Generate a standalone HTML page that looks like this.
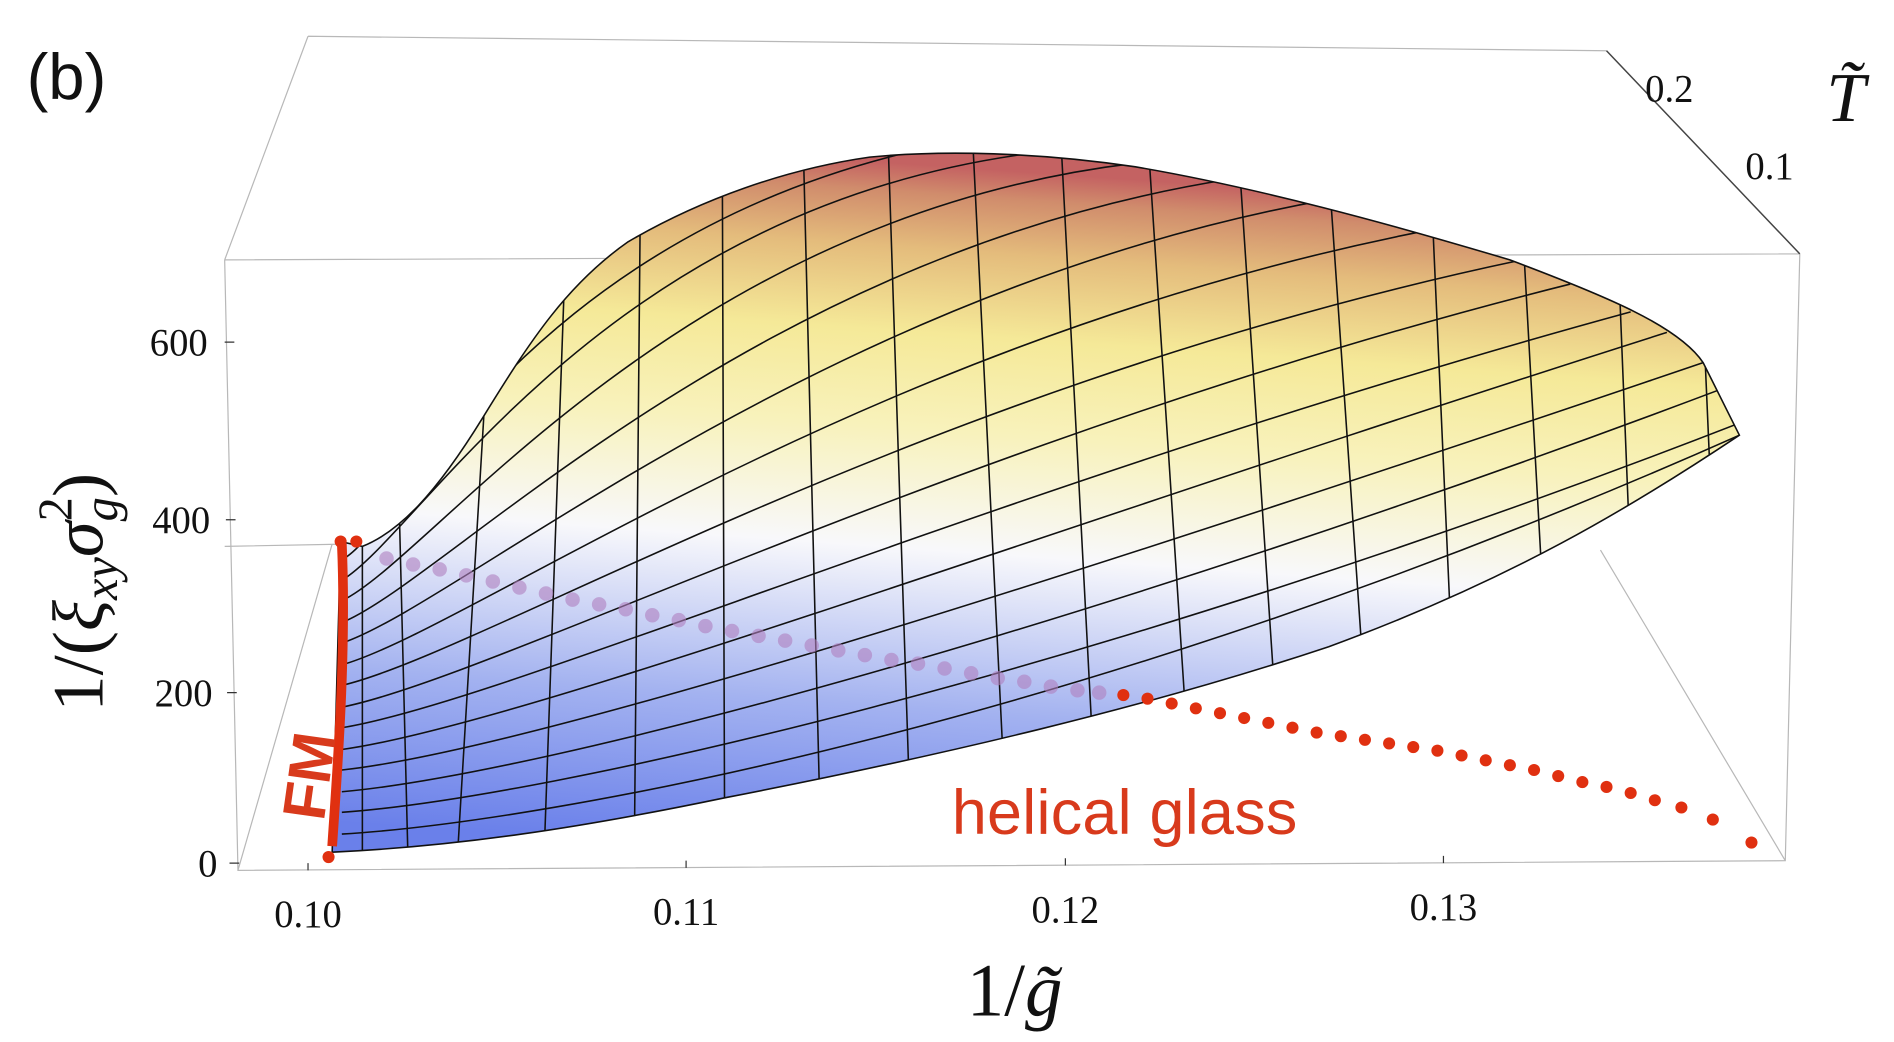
<!DOCTYPE html>
<html><head><meta charset="utf-8"><style>
html,body{margin:0;padding:0;background:#fff;}
svg{display:block;}
</style></head><body>
<svg width="1894" height="1042" viewBox="0 0 1568 862" preserveAspectRatio="none" xmlns="http://www.w3.org/2000/svg">
<defs>
<linearGradient id="g" gradientUnits="userSpaceOnUse" x1="560" y1="700" x2="600" y2="125">
<stop offset="0" stop-color="#6a80ea"/>
<stop offset="0.22" stop-color="#a3b2f0"/>
<stop offset="0.45" stop-color="#f8f8fb"/>
<stop offset="0.62" stop-color="#f8f2bc"/>
<stop offset="0.76" stop-color="#f5e998"/>
<stop offset="0.88" stop-color="#e4bc7c"/>
<stop offset="0.96" stop-color="#d08c6c"/>
<stop offset="1" stop-color="#c46262"/>
</linearGradient>
<clipPath id="c"><path id="sp" d="M275,705 L282,448 L300,452 C330,440 360,410 400,345 C440,280 470,235 520,200 C580,165 650,140 720,130 C780,124 860,126 940,138 C1040,155 1150,185 1250,215 C1330,245 1390,270 1410,300 L1440,360 C1350,420 1250,480 1100,535 C950,585 780,625 600,660 C480,685 380,700 275,705 Z"/></clipPath>
</defs>
<g fill="none" stroke="#b8b8b8" stroke-width="1">
<path d="M186,215 L1490,210 M255,30 L1330,42 M255,30 L186,215 M1330,42 L1490,210 M186,215 L197,720 L1478,712 L1490,210 M1325,455 L1478,712 M186,452 L290,450 M197,720 L275,450"/>
</g>
<g stroke="#333" stroke-width="1">
<path d="M186,283 h8 M187,430 h8 M188,573 h8 M190,714 h8 M255,720 v-6 M568,718 v-6 M882,716 v-6 M1195,714 v-6"/>
</g>
<path d="M1330,42 L1490,210" stroke="#444" stroke-width="1.2" fill="none"/>
<use href="#sp" fill="url(#g)"/>
<g clip-path="url(#c)" fill="none" stroke="#111" stroke-width="1.3">
<path d="M300,720 L300,440 M338,720 L330,400 M378,720 L402,320 M450,720 L467,240 M525,720 L530,180 M600,720 L598,140 M680,720 L665,120 M755,720 L735,110 M835,720 L805,110 M910,720 L878,110 M990,720 L950,110 M1065,720 L1025,120 M1140,720 L1100,140 M1210,720 L1185,160 M1290,720 L1260,180 M1360,720 L1340,220 M1430,720 L1410,260"/>
<path d="M283,690 C450,680 900,600 1440,360"/>
<path d="M283,672 C450,660 900,560 1440,350"/>
<path d="M283,655 C450,640 900,520 1430,320"/>
<path d="M283,637 C440,620 880,480 1410,300"/>
<path d="M283,620 C430,600 860,440 1380,275"/>
<path d="M283,602 C420,580 830,400 1350,258"/>
<path d="M283,585 C410,560 800,360 1300,235"/>
<path d="M283,567 C400,540 760,320 1260,215"/>
<path d="M283,550 C390,520 720,280 1185,190"/>
<path d="M283,532 C380,500 680,240 1100,165"/>
<path d="M283,515 C370,480 620,210 1020,148"/>
<path d="M283,497 C360,460 560,180 940,135"/>
<path d="M283,480 C350,440 500,170 860,126"/>
<path d="M283,463 C330,440 430,200 760,124"/>
</g>
<use href="#sp" fill="none" stroke="#111" stroke-width="1.3"/>
<g fill="#b080c0" opacity="0.6">
<circle cx="320" cy="462" r="6"/><circle cx="342" cy="467" r="6"/><circle cx="364" cy="471" r="6"/><circle cx="386" cy="476" r="6"/><circle cx="408" cy="481" r="6"/><circle cx="430" cy="486" r="6"/><circle cx="452" cy="491" r="6"/><circle cx="474" cy="496" r="6"/><circle cx="496" cy="500" r="6"/><circle cx="518" cy="504" r="6"/><circle cx="540" cy="509" r="6"/><circle cx="562" cy="513" r="6"/><circle cx="584" cy="518" r="6"/><circle cx="606" cy="522" r="6"/><circle cx="628" cy="526" r="6"/><circle cx="650" cy="530" r="6"/><circle cx="672" cy="534" r="6"/><circle cx="694" cy="538" r="6"/><circle cx="716" cy="542" r="6"/><circle cx="738" cy="546" r="6"/><circle cx="760" cy="549" r="6"/><circle cx="782" cy="553" r="6"/><circle cx="804" cy="557" r="6"/><circle cx="826" cy="561" r="6"/><circle cx="848" cy="564" r="6"/><circle cx="870" cy="568" r="6"/><circle cx="892" cy="571" r="6"/><circle cx="910" cy="573" r="6"/>
</g>
<g fill="#e03010">
<circle cx="930" cy="575" r="5"/><circle cx="950" cy="578" r="5"/><circle cx="970" cy="582" r="5"/><circle cx="990" cy="586" r="5"/><circle cx="1010" cy="590" r="5"/><circle cx="1030" cy="594" r="5"/><circle cx="1050" cy="598" r="5"/><circle cx="1070" cy="602" r="5"/><circle cx="1090" cy="606" r="5"/><circle cx="1110" cy="609" r="5"/><circle cx="1130" cy="612" r="5"/><circle cx="1150" cy="615" r="5"/><circle cx="1170" cy="618" r="5"/><circle cx="1190" cy="621" r="5"/><circle cx="1210" cy="625" r="5"/><circle cx="1230" cy="629" r="5"/><circle cx="1250" cy="633" r="5"/><circle cx="1270" cy="637" r="5"/><circle cx="1290" cy="642" r="5"/><circle cx="1310" cy="647" r="5"/><circle cx="1330" cy="651" r="5"/><circle cx="1350" cy="656" r="5"/><circle cx="1370" cy="662" r="5"/><circle cx="1392" cy="668" r="5"/><circle cx="1418" cy="678" r="5"/><circle cx="1450" cy="697" r="5"/>
<circle cx="272" cy="709" r="5"/><circle cx="282" cy="448" r="5"/><circle cx="295" cy="448" r="5"/>
</g>
<path d="M275,700 C279,640 287,540 283,450" stroke="#e03010" stroke-width="8" fill="none"/>
<g font-family="Liberation Serif, serif" fill="#111" font-size="32">
<text x="172" y="294" text-anchor="end">600</text>
<text x="174" y="441" text-anchor="end">400</text>
<text x="176" y="584" text-anchor="end">200</text>
<text x="180" y="725" text-anchor="end">0</text>
<text x="255" y="767" text-anchor="middle">0.10</text>
<text x="568" y="765" text-anchor="middle">0.11</text>
<text x="882" y="763" text-anchor="middle">0.12</text>
<text x="1195" y="761" text-anchor="middle">0.13</text>
<text x="1362" y="84">0.2</text>
<text x="1445" y="148">0.1</text>
<text x="1512" y="100" font-size="58" font-style="italic">T̃</text>
<text x="840" y="840" font-size="62" text-anchor="middle">1/<tspan font-style="italic">g̃</tspan></text>
<text transform="translate(85,490) rotate(-90)" font-size="60" text-anchor="middle">1/(<tspan font-style="italic">ξ</tspan><tspan font-style="italic" font-size="40" dy="12">xy</tspan><tspan font-style="italic" dy="-12">σ</tspan><tspan font-style="italic" font-size="40" dy="12">g</tspan><tspan font-size="40" dx="-20" dy="-38">2</tspan><tspan dy="26">)</tspan></text>
</g>
<text x="22" y="82" font-family="Liberation Sans, sans-serif" font-size="54" fill="#111">(b)</text>
<text x="788" y="690" font-family="Liberation Sans, sans-serif" font-size="52" fill="#d83a1c" textLength="286">helical glass</text>
<text transform="translate(268,680) rotate(-82)" font-family="Liberation Sans, sans-serif" font-size="50" font-weight="bold" fill="#d83a1c">FM</text>
</svg>
</body></html>
